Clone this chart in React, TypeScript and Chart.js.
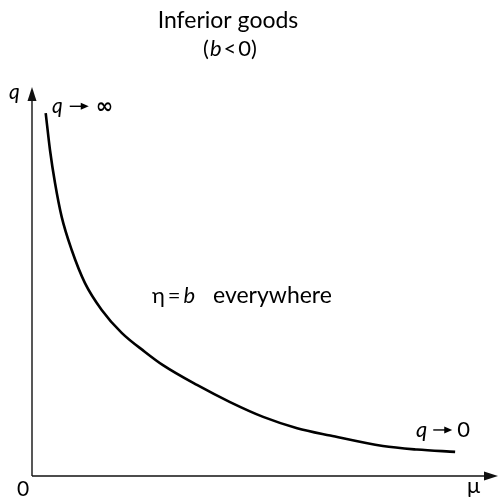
import React, { useEffect, useRef } from "react";
import { Chart, registerables } from "chart.js";

Chart.register(...registerables);

// Income (μ) and quantity demanded (q) along the Engel curve
const muValues = [2.94, 3.86, 4.94, 6.37, 8.52, 11.37, 14.96, 19.25, 24.25, 28.1, 35.4, 42.5, 49.6, 56.9, 64.0, 75.3, 82.6, 90.8];
const qValues = [93.3, 83.8, 75.3, 66.6, 58.1, 49.6, 42.7, 36.8, 31.9, 28.5, 23.4, 19.0, 15.2, 12.3, 10.4, 7.7, 6.8, 6.2];

const titleLines = ["Inferior goods", "(b < 0)"];
const FONT = "Lato, 'Open Sans', sans-serif";

type Seg = { text: string; italic?: boolean; bold?: boolean; arrow?: boolean; gap?: number; family?: string; size?: number };

function drawRich(ctx: CanvasRenderingContext2D, segs: Seg[], x: number, y: number, size: number, align: "left" | "center") {
  const fontFor = (s: Seg) =>
    `${s.italic ? "italic " : ""}${s.bold ? "bold " : ""}${s.size ?? size}px ${s.family ?? FONT}`;
  const widthOf = (s: Seg) => {
    if (s.arrow) return 19;
    ctx.font = fontFor(s);
    return ctx.measureText(s.text).width;
  };
  let total = 0;
  segs.forEach((s) => (total += widthOf(s) + (s.gap ?? 0)));
  let cx = align === "center" ? x - total / 2 : x;
  ctx.textBaseline = "alphabetic";
  ctx.textAlign = "left";
  segs.forEach((s) => {
    const w = widthOf(s);
    if (s.arrow) {
      const ay = y - size * 0.32;
      ctx.beginPath();
      ctx.moveTo(cx, ay);
      ctx.lineTo(cx + w - 6, ay);
      ctx.lineWidth = 1.4;
      ctx.strokeStyle = "#000";
      ctx.stroke();
      ctx.beginPath();
      ctx.moveTo(cx + w, ay);
      ctx.lineTo(cx + w - 8, ay - 3.5);
      ctx.lineTo(cx + w - 8, ay + 3.5);
      ctx.closePath();
      ctx.fillStyle = "#000";
      ctx.fill();
    } else {
      ctx.font = fontFor(s);
      ctx.fillStyle = "#000";
      ctx.fillText(s.text, cx, y);
    }
    cx += w + (s.gap ?? 0);
  });
}

const axesAndLabels = {
  id: "axesAndLabels",
  afterDraw(chart: Chart) {
    const ctx = chart.ctx;
    const { left, right, top, bottom } = chart.chartArea;
    ctx.save();
    ctx.strokeStyle = "#111";
    ctx.fillStyle = "#111";
    ctx.lineWidth = 1.4;
    // μ axis
    ctx.beginPath();
    ctx.moveTo(left, bottom);
    ctx.lineTo(right - 10, bottom);
    ctx.stroke();
    ctx.beginPath();
    ctx.moveTo(right, bottom);
    ctx.lineTo(right - 14, bottom - 4.5);
    ctx.lineTo(right - 14, bottom + 4.5);
    ctx.closePath();
    ctx.fill();
    // q axis
    ctx.beginPath();
    ctx.moveTo(left, bottom);
    ctx.lineTo(left, top + 10);
    ctx.stroke();
    ctx.beginPath();
    ctx.moveTo(left, top);
    ctx.lineTo(left - 4.5, top + 14);
    ctx.lineTo(left + 4.5, top + 14);
    ctx.closePath();
    ctx.fill();

    // Title
    drawRich(ctx, [{ text: titleLines[0] }], 228, 28, 23, "center");
    drawRich(
      ctx,
      [{ text: "(", gap: 1 }, { text: "b", italic: true, gap: 2 }, { text: "<", gap: 2 }, { text: "0)" }],
      230,
      56,
      22,
      "center"
    );

    // Axis names
    drawRich(ctx, [{ text: "q", italic: true }], left - 23, top + 12, 21, "left");
    drawRich(ctx, [{ text: "μ" }], right - 31, bottom + 17, 22, "left");
    drawRich(ctx, [{ text: "0" }], left - 15, bottom + 20, 21, "left");

    // Curve annotations
    drawRich(
      ctx,
      [
        { text: "q", italic: true, gap: 7 },
        { text: "", arrow: true, gap: 7 },
        { text: "∞", bold: true, family: "'DejaVu Sans', sans-serif", size: 21 },
      ],
      left + 20,
      top + 26,
      21,
      "left"
    );
    drawRich(
      ctx,
      [{ text: "q", italic: true, gap: 6 }, { text: "", arrow: true, gap: 5 }, { text: "0" }],
      left + 384,
      bottom - 39,
      22,
      "left"
    );
    drawRich(
      ctx,
      [{ text: "η", gap: 3 }, { text: "=", gap: 3 }, { text: "b", italic: true }],
      left + 120,
      bottom - 173,
      22,
      "left"
    );
    drawRich(ctx, [{ text: "everywhere" }], left + 181, bottom - 173, 23, "left");
    ctx.restore();
  },
};

export default function App() {
  const canvasRef = useRef<HTMLCanvasElement | null>(null);

  useEffect(() => {
    if (!canvasRef.current) return;
    const chart = new Chart(canvasRef.current, {
      type: "scatter",
      data: {
        datasets: [
          {
            data: muValues.map((m, i) => ({ x: m, y: qValues[i] })),
            showLine: true,
            borderColor: "#000",
            borderWidth: 2.6,
            pointRadius: 0,
            cubicInterpolationMode: "monotone",
            fill: false,
          },
        ],
      },
      options: {
        animation: false,
        responsive: false,
        layout: { padding: { left: 32, right: 1, top: 87, bottom: 27 } },
        scales: {
          x: { type: "linear", min: 0, max: 100, display: false },
          y: { type: "linear", min: 0, max: 100, display: false },
        },
        plugins: { legend: { display: false }, tooltip: { enabled: false }, title: { display: false } },
      },
      plugins: [axesAndLabels],
    });
    return () => chart.destroy();
  }, []);

  return (
    <div style={{ position: "absolute", left: 0, top: 0, width: 499, height: 503, background: "#fff" }}>
      <canvas ref={canvasRef} width={499} height={503} />
    </div>
  );
}
